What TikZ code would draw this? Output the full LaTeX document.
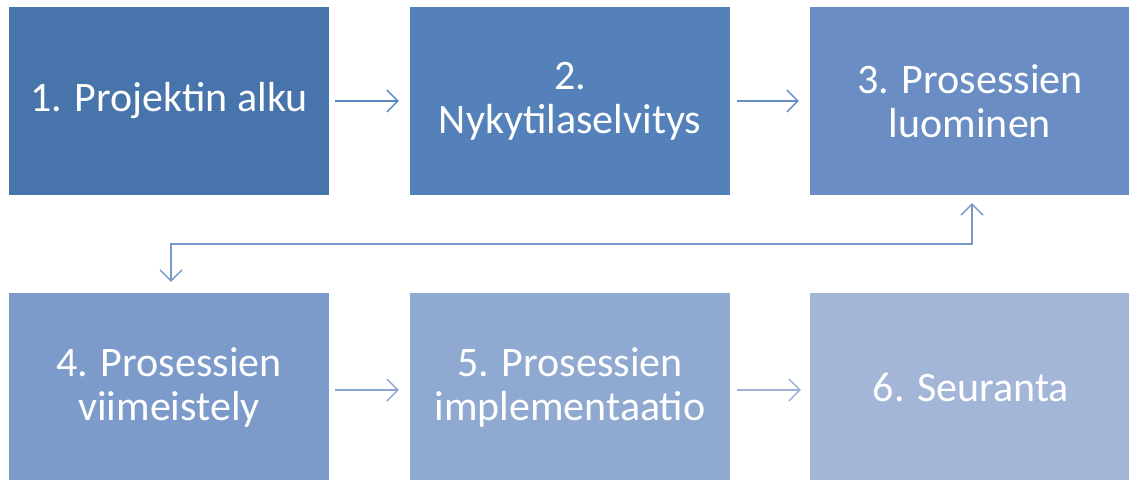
\documentclass[tikz,border=0pt]{standalone}
\usepackage{fontspec}
\setmainfont{Carlito}
\usetikzlibrary{arrows.meta}
\definecolor{cA}{HTML}{4774AA}
\definecolor{cB}{HTML}{5481BA}
\definecolor{cC}{HTML}{6A8DC4}
\definecolor{cD}{HTML}{7C9BCB}
\definecolor{cE}{HTML}{8FA9D1}
\definecolor{cF}{HTML}{A3B6D7}
\definecolor{aA}{HTML}{5B87C3}
\definecolor{aB}{HTML}{658DC6}
\definecolor{aC}{HTML}{7698CB}
\definecolor{aD}{HTML}{8BA5D0}
\definecolor{aE}{HTML}{9BB1D5}
\tikzset{
  stepbox/.style={rectangle, draw=none, minimum width=320pt, minimum height=188pt,
    inner sep=0pt, align=center, text=white,
    font=\fontsize{42}{44}\selectfont},
  conn/.style={line width=1.4pt, -{Straight Barb[length=11pt,width=22pt,line width=1.4pt]}},
  biconn/.style={line width=1.4pt, {Straight Barb[length=11pt,width=22pt,line width=1.4pt]}-{Straight Barb[length=11pt,width=22pt,line width=1.4pt]}}
}
\begin{document}
\begin{tikzpicture}[x=1pt,y=1pt]
\useasboundingbox (0,0) rectangle (1129,479);
\node[stepbox, fill=cA] (b1) at (169,378) {1. Projektin alku};
\node[stepbox, fill=cB] (b2) at (570,378) {2.\\Nykytilaselvitys};
\node[stepbox, fill=cC] (b3) at (970,378) {3. Prosessien\\luominen};
\node[stepbox, fill=cD] (b4) at (169,92) {4. Prosessien\\viimeistely};
\node[stepbox, fill=cE] (b5) at (570,92) {5. Prosessien\\implementaatio};
\node[stepbox, fill=cF, minimum width=322pt] (b6) at (971,92) {6. Seuranta};
\coordinate (mid) at (0,235);
\draw[conn, draw=aA, shorten <=6pt, shorten >=11pt] (b1) -- (b2);
\draw[conn, draw=aB, shorten <=7pt, shorten >=11pt] (b2) -- (b3);
\draw[conn, draw=aD, shorten <=6pt, shorten >=11pt] ([yshift=-3pt]b4.east) -- ([yshift=-3pt]b5.west);
\draw[conn, draw=aE, shorten <=7pt, shorten >=9pt] ([yshift=-3pt]b5.east) -- ([yshift=-3pt]b6.west);
\draw[biconn, draw=aC] ([xshift=2pt,yshift=-8pt]b3.south) -- ([xshift=2pt]b3.south |- mid) -- ([xshift=2pt]b4.north |- mid) -- ([xshift=2pt,yshift=11pt]b4.north);
\end{tikzpicture}
\end{document}
